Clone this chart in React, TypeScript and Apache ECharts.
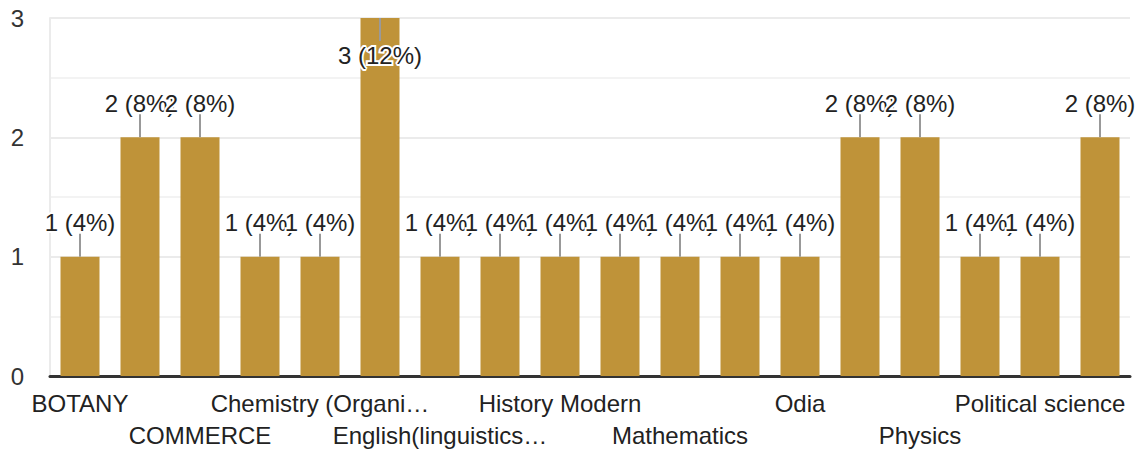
import React, { useEffect, useRef } from "react";
import * as echarts from "echarts";

const categories = [
  "BOTANY",
  "Botany",
  "COMMERCE",
  "Chemistry",
  "Chemistry (Organi…",
  "Economics",
  "English(linguistics…",
  "Geography",
  "History Modern",
  "Home Science",
  "Mathematics",
  "Microbiology",
  "Odia",
  "Philosophy",
  "Physics",
  "Physiology",
  "Political science",
  "Zoology",
];
const counts = [1, 2, 2, 1, 1, 3, 1, 1, 1, 1, 1, 1, 1, 2, 2, 1, 1, 2];
const yTicks = [0, 1, 2, 3];

const FONT = "Arial, 'Liberation Sans', sans-serif";

export default function App() {
  const ref = useRef<HTMLDivElement>(null);
  useEffect(() => {
    if (!ref.current) return;
    const chart = echarts.init(ref.current, undefined, { renderer: "svg" });
    const total = counts.reduce((a, b) => a + b, 0);
    const yMax = yTicks[yTicks.length - 1];
    chart.setOption({
      animation: false,
      grid: { left: 50, right: 11, top: 18, bottom: 74, outerBoundsMode: "none" },
      xAxis: {
        type: "category",
        data: categories,
        axisTick: { show: false },
        axisLine: { show: true, lineStyle: { color: "#333", width: 3 } },
        axisLabel: {
          interval: 0,
          hideOverlap: false,
          showMaxLabel: true,
          margin: 11,
          color: "#222",
          fontSize: 24,
          fontFamily: FONT,
          lineHeight: 32,
          formatter: (v: string, i: number) =>
            i % 2 === 1 ? "" : i % 4 === 2 ? "\n" + v : v,
        },
      },
      yAxis: {
        type: "value",
        min: yTicks[0],
        max: yMax,
        interval: 1,
        axisLine: { show: true, lineStyle: { color: "#ebebeb", width: 2 } },
        axisTick: { show: false },
        axisLabel: { color: "#333", fontSize: 24, fontFamily: FONT, margin: 26 },
        splitLine: { show: true, lineStyle: { color: "#ebebeb", width: 2 } },
        minorTick: { show: false, splitNumber: 2 },
        minorSplitLine: { show: true, lineStyle: { color: "#f3f3f3", width: 2 } },
      },
      series: [
        {
          type: "bar",
          data: counts,
          barCategoryGap: "35%",
          itemStyle: { color: "#BF9339" },
          z: 2,
        },
        {
          type: "custom",
          z: 5,
          clip: false,
          data: counts.map((v, i) => [i, v]),
          renderItem: (params: any, api: any) => {
            const idx = params.dataIndex;
            const v = counts[idx];
            const p = api.coord([api.value(0), api.value(1)]);
            const atTop = v >= yMax;
            const text = `${v} (${Math.round((v / total) * 100)}%)`;
            const stemEnd = atTop ? p[1] + 23 : p[1] - 23;
            const labelY = atTop ? p[1] + 37 : p[1] - 34;
            return {
              type: "group",
              children: [
                {
                  type: "line",
                  shape: { x1: p[0], y1: p[1], x2: p[0], y2: stemEnd },
                  style: { stroke: "#999", lineWidth: 2 },
                },
                {
                  type: "text",
                  x: p[0],
                  y: labelY,
                  style: {
                    text,
                    fill: "#222",
                    fontSize: 24,
                    fontFamily: FONT,
                    align: "center",
                    verticalAlign: "middle",
                    stroke: "#fff",
                    lineWidth: 4,
                    strokeFirst: true,
                  },
                },
              ],
            };
          },
        },
      ],
    });
    return () => chart.dispose();
  }, []);
  return (
    <div
      ref={ref}
      style={{ position: "absolute", left: 0, top: 0, width: 1141, height: 450 }}
    />
  );
}
